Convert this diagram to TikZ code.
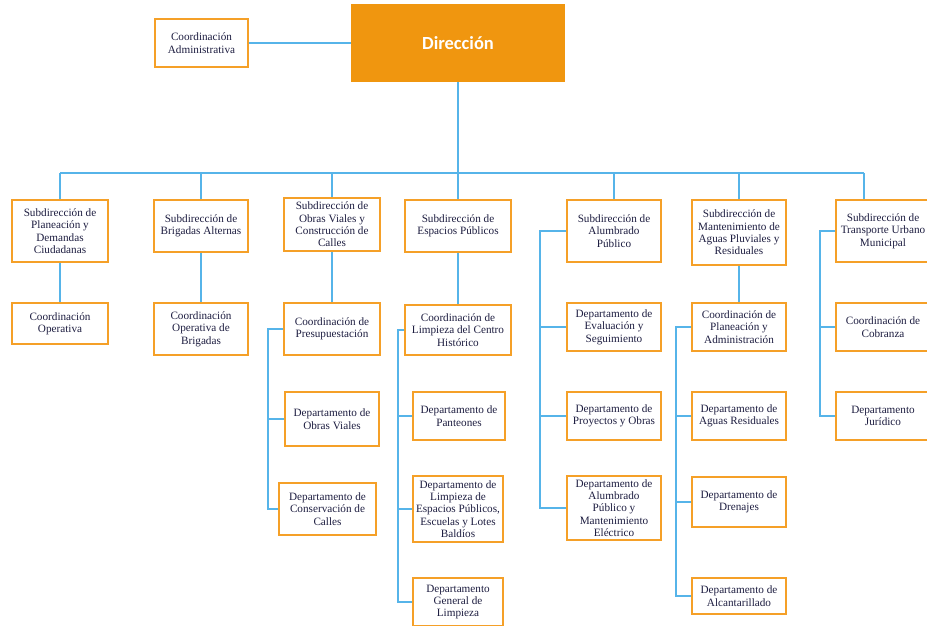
\documentclass[tikz,border=0pt]{standalone}
\usepackage{fontspec}
\setmainfont{Liberation Serif}
\newfontfamily\dirfont{Carlito}
\definecolor{boxorange}{RGB}{245,160,40}
\definecolor{dirorange}{RGB}{240,150,15}
\definecolor{linkblue}{RGB}{86,180,233}
\definecolor{txtcol}{RGB}{30,30,65}
\newcommand\orgbox[6]{\node[box, minimum width={(#4-#2)*1pt}, minimum height={(#5-#3)*1pt}] (#1) at ({(#2+#4)/2},{(#3+#5)/2}) {#6};}
\begin{document}
\begin{tikzpicture}[x=1pt,y=-1pt,
  box/.style={draw=boxorange, line width=1.5pt, fill=white, align=center, inner sep=0pt, text=txtcol, font=\fontsize{11.2}{12.4}\selectfont},
  link/.style={draw=linkblue, line width=1.9pt}]
\useasboundingbox (0,0) rectangle (927,626);
% top
\orgbox{admin}{155}{19}{248}{67}{Coordinación\\Administrativa}
\node[fill=dirorange, draw=none, minimum width=214pt, minimum height=78pt, inner sep=0pt, text=white, font=\dirfont\bfseries\fontsize{18.5}{20}\selectfont] (dir) at (458,43) {Dirección};
% subdirecciones
\orgbox{s1}{12}{200}{108}{262}{Subdirección de\\Planeación y\\Demandas\\Ciudadanas}
\orgbox{s2}{154}{200}{248}{252}{Subdirección de\\Brigadas Alternas}
\orgbox{s3}{284}{198}{380}{251}{Subdirección de\\Obras Viales y\\Construcción de\\Calles}
\orgbox{s4}{405}{200}{511}{252}{Subdirección de\\Espacios Públicos}
\orgbox{s5}{567}{200}{661}{262}{Subdirección de\\Alumbrado\\Público}
\orgbox{s6}{692}{200}{786}{265}{Subdirección de\\Mantenimiento de\\Aguas Pluviales y\\Residuales}
\orgbox{s7}{836}{200}{930}{262}{Subdirección de\\Transporte Urbano\\Municipal}
% second row
\orgbox{c1}{12}{303}{108}{344}{Coordinación\\Operativa}
\orgbox{c2}{154}{303}{248}{355}{Coordinación\\Operativa de\\Brigadas}
\orgbox{c3}{284}{303}{380}{355}{Coordinación de\\Presupuestación}
\orgbox{c4}{405}{305}{511}{355}{Coordinación de\\Limpieza del Centro\\Histórico}
\orgbox{c5}{567}{303}{661}{351}{Departamento de\\Evaluación y\\Seguimiento}
\orgbox{c6}{692}{303}{786}{351}{Coordinación de\\Planeación y\\Administración}
\orgbox{c7}{836}{303}{930}{351}{Coordinación de\\Cobranza}
% departments
\orgbox{d3a}{285}{392}{379}{446}{Departamento de\\Obras Viales}
\orgbox{d3b}{279}{483}{376}{535}{Departamento de\\Conservación de\\Calles}
\orgbox{d4a}{413}{392}{505}{440}{Departamento de\\Panteones}
\orgbox{d4b}{413}{476}{503}{542}{Departamento de\\Limpieza de\\Espacios Públicos,\\Escuelas y Lotes\\Baldíos}
\orgbox{d4c}{413}{578}{503}{626}{Departamento\\General de\\Limpieza}
\orgbox{d5a}{567}{392}{661}{440}{Departamento de\\Proyectos y Obras}
\orgbox{d5b}{567}{476}{661}{540}{Departamento de\\Alumbrado\\Público y\\Mantenimiento\\Eléctrico}
\orgbox{d6a}{692}{392}{786}{440}{Departamento de\\Aguas Residuales}
\orgbox{d6b}{692}{477}{786}{527}{Departamento de\\Drenajes}
\orgbox{d6c}{692}{578}{786}{614}{Departamento de\\Alcantarillado}
\orgbox{d7a}{836}{392}{930}{440}{Departamento\\Jurídico}
% connectors
\coordinate (bus) at (0,173);
\coordinate (s7top) at ([xshift=-19pt]s7.north);
\draw[link] (admin.east) -- (dir.west);
\draw[link] (dir.south) -- (dir.south |- bus);
\draw[link] (s1.north |- bus) -- (s7top |- bus);
\foreach \s in {s1,s2,s3,s4,s5,s6}{\draw[link] (\s.north) -- (\s.north |- bus);}
\draw[link] (s7top) -- (s7top |- bus);
\foreach \a/\b in {s1/c1,s2/c2,s3/c3,s4/c4,s6/c6}{\draw[link] (\a.south) -- (\b.north);}
% brackets
\coordinate (b3) at ([xshift=-15pt]c3.west);
\draw[link] (c3.west) -- (b3) |- (d3b.west);
\draw[link] (d3a.west) -- (d3a.west -| b3);
\coordinate (b4) at ([xshift=-6pt]c4.west);
\draw[link] (c4.west) -- (b4) |- (d4c.west);
\draw[link] (d4a.west) -- (d4a.west -| b4);
\draw[link] (d4b.west) -- (d4b.west -| b4);
\coordinate (b5) at ([xshift=-26pt]s5.west);
\draw[link] (s5.west) -- (b5) |- (d5b.west);
\draw[link] (c5.west) -- (c5.west -| b5);
\draw[link] (d5a.west) -- (d5a.west -| b5);
\coordinate (b6) at ([xshift=-15pt]c6.west);
\draw[link] (c6.west) -- (b6) |- (d6c.west);
\draw[link] (d6a.west) -- (d6a.west -| b6);
\draw[link] (d6b.west) -- (d6b.west -| b6);
\coordinate (b7) at ([xshift=-15pt]s7.west);
\draw[link] (s7.west) -- (b7) |- (d7a.west);
\draw[link] (c7.west) -- (c7.west -| b7);
\end{tikzpicture}
\end{document}
